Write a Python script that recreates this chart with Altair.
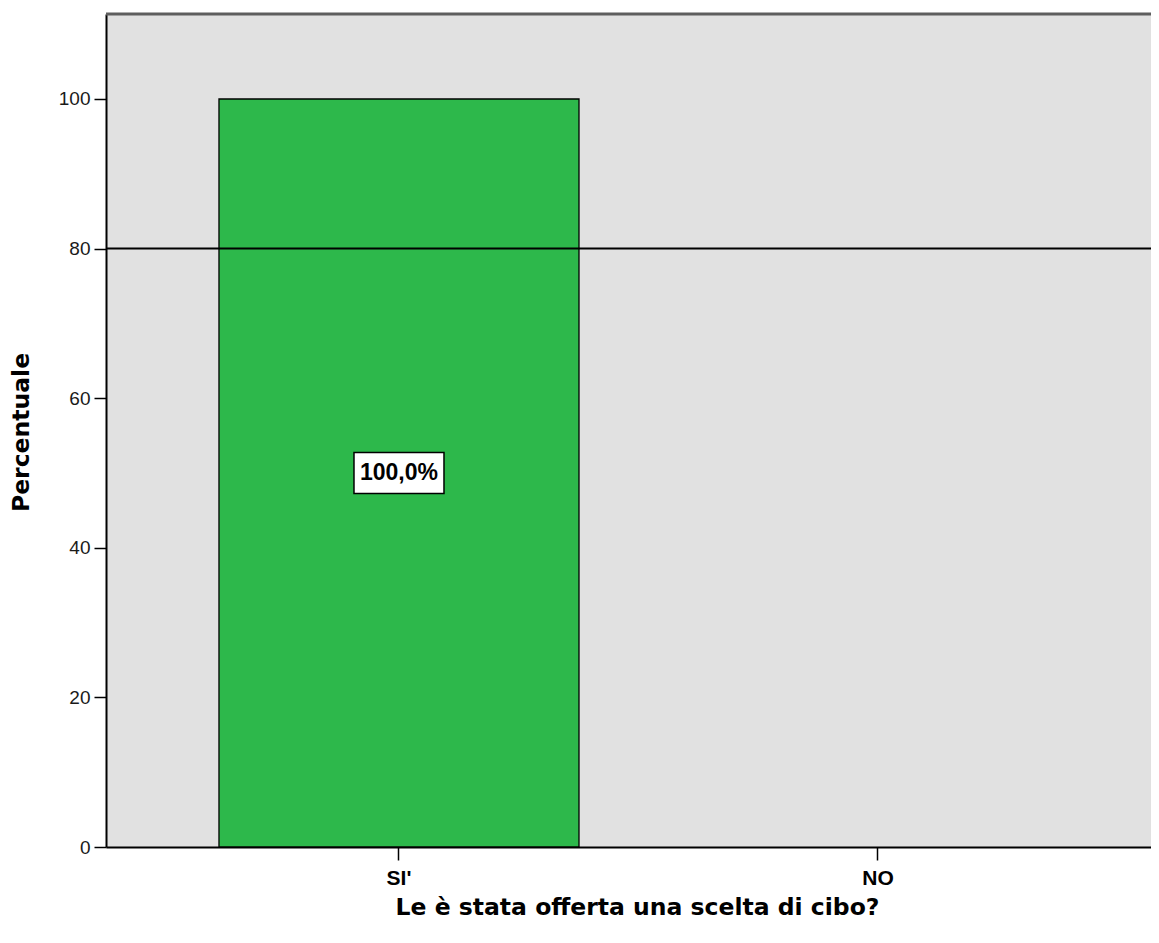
import altair as alt
import pandas as pd

# ---- data ----
categories = ["SI'", "NO"]
percentages = [100.0, 0.0]
bar_labels = ["100,0%", ""]
y_tick_values = [0, 20, 40, 60, 80, 100]
y_max = 111.36
reference_value = 80

FONT = "Liberation Sans"
TITLE_FONT = "DejaVu Sans"

df = pd.DataFrame({"cat": categories, "pct": percentages, "lab": bar_labels})
ref_df = pd.DataFrame({"v": [reference_value]})
top_df = pd.DataFrame({"v": [y_max]})

xscale = alt.Scale(domain=categories, paddingInner=0.2484, paddingOuter=0.215, align=0.5485)
yscale = alt.Scale(domain=[0, y_max], nice=False, zero=True)

x_axis = alt.Axis(
    title="Le è stata offerta una scelta di cibo?",
    labelAngle=0,
    domain=True, domainColor="#000000", domainWidth=2,
    ticks=True, tickColor="#000000", tickWidth=1.5, tickSize=13,
    labelFont=FONT, labelFontSize=21, labelFontWeight="bold", labelColor="#000000",
    labelPadding=7, labelBaseline="top",
    titleFont=TITLE_FONT, titleFontSize=23.5, titleFontWeight="bold", titleColor="#000000",
    titleX=531, titleY=60, titleBaseline="middle", titleAlign="center",
    grid=False,
)
y_axis = alt.Axis(
    title="Percentuale",
    values=y_tick_values,
    domain=True, domainColor="#000000", domainWidth=2,
    ticks=True, tickColor="#000000", tickWidth=1.5, tickSize=12,
    labelFont=FONT, labelFontSize=19, labelColor="#1a1a1a", labelPadding=4,
    titleFont=TITLE_FONT, titleFontSize=23.5, titleFontWeight="bold", titleColor="#000000",
    titleX=-85, titleY=418, titleBaseline="middle", titleAlign="center", titleAngle=270,
    grid=False,
)


def X(field):
    return alt.X(field, scale=xscale, sort=categories, axis=x_axis)


def Y(field):
    return alt.Y(field, scale=yscale, axis=y_axis)


base = alt.Chart(df)

bars = base.transform_filter("datum.pct > 0").mark_bar(
    color="#2db84b", stroke="#000000", strokeWidth=1.3
).encode(x=X("cat:N"), y=Y("pct:Q"))

ref_rule = alt.Chart(ref_df).mark_rule(color="#000000", strokeWidth=2).encode(y=Y("v:Q"))

top_rule = alt.Chart(top_df).mark_rule(color="#5e5e5e", strokeWidth=3).encode(y=Y("v:Q"))

label_base = base.transform_filter("datum.pct > 0").transform_calculate(mid="datum.pct / 2")

label_box = label_base.mark_point(
    shape="M-1,-0.4556L1,-0.4556L1,0.4556L-1,0.4556Z",
    size=8100, filled=True, fill="#ffffff", stroke="#000000", strokeWidth=1.5, opacity=1,
).encode(x=X("cat:N"), y=Y("mid:Q"))

label_text = label_base.mark_text(
    font=FONT, fontSize=23, fontWeight="bold", color="#000000", baseline="middle", align="center"
).encode(x=X("cat:N"), y=Y("mid:Q"), text="lab:N")

chart = alt.layer(bars, ref_rule, top_rule, label_box, label_text).properties(
    width=1045,
    height=833,
    padding={"left": 98, "top": 6, "right": 0, "bottom": 88},
    autosize="none",
).configure_view(stroke=None, fill="#e1e1e1")

chart.save("out.html", embed_options={"renderer": "svg", "actions": False})
